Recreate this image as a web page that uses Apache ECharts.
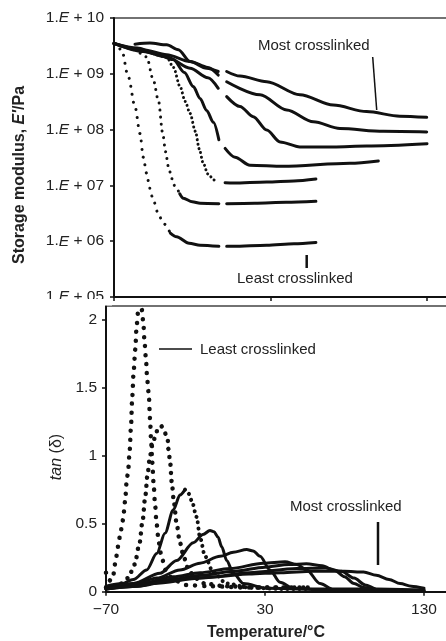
<!DOCTYPE html>
<html><head><meta charset="utf-8">
<script src="https://cdn.jsdelivr.net/npm/echarts@6/dist/echarts.min.js"></script>
<style>html,body{margin:0;padding:0;background:#fff}#c{width:446px;height:641px}</style>
</head><body><div id="c"></div>
<script>
// ---------- tick values ----------
const tempTicks = [-70, 30, 130];
const modulusTicks = [1e5, 1e6, 1e7, 1e8, 1e9, 1e10];
const tanTicks = [0, 0.5, 1, 1.5, 2];

// ---------- storage modulus E' (Pa) vs temperature (°C), least -> most crosslinked ----------
const e1 = [[-70,3.5e9],[-65.1,2.7e9],[-60.9,8.9e8],[-56.6,2.6e8],[-53.4,8.5e7],[-51.3,3.2e7],[-49.2,1.66e7],[-47.1,8.9e6],[-45,5.5e6],[-41.5,3.0e6],[-38.5,2.1e6],[-34,1.4e6],[-30,1.2e6],[-22,9.2e5],[-15,8.5e5],[-3,8.1e5],[-0.5,null],[2,8.1e5],[6.2,8.1e5],[27.6,8.5e5],[45,9.0e5],[59,9.5e5]];
const e2 = [[-70,3.5e9],[-60,2.9e9],[-52,2.3e9],[-49.1,2.0e9],[-44.9,7.8e8],[-41.5,3.2e8],[-39,8.9e7],[-37,4.0e7],[-35.3,2.2e7],[-33,1.32e7],[-31,9.5e6],[-28,7.1e6],[-25.7,5.9e6],[-20,5.1e6],[-15,4.8e6],[-3,4.7e6],[-0.5,null],[2,4.7e6],[20,4.8e6],[40,5.0e6],[59,5.2e6]];
const e3 = [[-70,3.5e9],[-55,2.7e9],[-45,2.3e9],[-36.3,2.0e9],[-32,1.3e9],[-27.8,5.9e8],[-24.5,3.2e8],[-21.4,1.95e8],[-18,9.3e7],[-15.5,4.5e7],[-13,2.5e7],[-10,1.6e7],[-6,1.25e7],[-3.4,1.17e7],[-0.5,null],[1,1.12e7],[6.2,1.1e7],[27.6,1.15e7],[45,1.2e7],[59,1.3e7]];
const e4 = [[-70,3.5e9],[-55,2.9e9],[-45,2.4e9],[-32.1,1.8e9],[-25,1.05e9],[-19.3,5.9e8],[-15,3.6e8],[-10.8,2.2e8],[-6.5,1.35e8],[-3,6.6e7],[-0.5,null],[1,4.6e7],[7.3,3.2e7],[16.9,2.3e7],[38,2.2e7],[80.8,2.5e7],[98.9,2.75e7]];
const e5 = [[-70,3.5e9],[-51.3,2.5e9],[-36.3,2.0e9],[-21.4,1.26e9],[-10,8.5e8],[-3.4,5.5e8],[-0.5,null],[2,3.9e8],[10.5,2.6e8],[19,1.7e8],[27.6,9.8e7],[36.1,6.0e7],[48.8,4.9e7],[70.1,4.9e7],[91.4,5.1e7],[130,5.6e7]];
const e6 = [[-70,3.5e9],[-51.3,2.7e9],[-36.3,2.2e9],[-21.4,1.66e9],[-10,1.3e9],[-3.4,9.5e8],[-0.5,null],[2,7.2e8],[23.3,4.2e8],[40.4,2.24e8],[57.4,1.38e8],[74.4,1.05e8],[102.1,9.3e7],[129.8,9.1e7]];
const e7 = [[-56.6,3.4e9],[-47,3.55e9],[-36.3,3.3e9],[-28.9,2.7e9],[-21.4,1.66e9],[-10.8,1.26e9],[-3.4,1.1e9],[-0.5,null],[2,1.1e9],[10.5,9.1e8],[27.6,7.2e8],[48.8,4.2e8],[70.1,2.75e8],[91.4,2.1e8],[112.7,1.74e8],[129.8,1.66e8]];

// ---------- tan(delta) vs temperature, least -> most crosslinked ----------
const t1 = [[-70,0.14],[-68.5,0.09],[-67,0.08],[-65.5,0.12],[-64,0.22],[-62.5,0.33],[-61,0.42],[-59.7,0.51],[-58.7,0.59],[-57.9,0.68],[-57,0.81],[-56,0.9],[-55.1,1.04],[-54.3,1.21],[-53.5,1.43],[-52.6,1.62],[-51.6,1.78],[-50.7,1.96],[-49.7,2.07],[-47.6,2.08],[-46.5,1.98],[-45.9,1.86],[-45,1.73],[-44,1.55],[-43.1,1.45],[-42.3,1.27],[-41.6,1.1],[-40.9,0.95],[-40.1,0.8],[-39.2,0.65],[-38.2,0.5],[-36.8,0.36],[-35,0.25],[-32.5,0.16],[-28,0.09],[-20,0.05],[-5,0.04],[20,0.03],[59,0.03]];
const t2 = [[-70,0.03],[-62,0.05],[-56,0.1],[-52,0.2],[-49,0.35],[-47,0.52],[-45.3,0.7],[-43.8,0.87],[-42.3,1.0],[-40.5,1.1],[-38,1.18],[-35.5,1.22],[-33.5,1.19],[-32.5,1.16],[-31.2,1.12],[-30.8,1.05],[-29.7,0.96],[-28.7,0.81],[-27.2,0.65],[-25.6,0.5],[-23.5,0.36],[-21,0.25],[-18,0.16],[-14,0.1],[-8,0.06],[5,0.04],[30,0.03],[59,0.03]];
const t3 = [[-70,0.04],[-60,0.06],[-52.8,0.09],[-44.4,0.16],[-38.1,0.28],[-32.9,0.43],[-27.7,0.6],[-23.5,0.71],[-20.3,0.75],[-18,0.72],[-16.1,0.67],[-13,0.55],[-10.9,0.4],[-7.7,0.26],[-2.5,0.14],[5.9,0.06],[20.6,0.03],[40,0.02],[59,0.02]];
const t4 = [[-70,0.025],[-52.8,0.06],[-36,0.135],[-25.5,0.23],[-15.1,0.36],[-9,0.42],[-4.6,0.45],[-2,0.44],[0.5,0.4],[2.8,0.33],[5.9,0.23],[10.1,0.135],[16.4,0.06],[31.1,0.025],[60,0.02],[99,0.02]];
const t5 = [[-70,0.025],[-52.8,0.05],[-38.1,0.1],[-23.5,0.16],[-10.9,0.21],[1.7,0.26],[10.1,0.29],[18.5,0.31],[22.5,0.3],[26.9,0.26],[33.1,0.16],[39.4,0.07],[47.8,0.025],[62.5,0.015],[99,0.015]];
const t6 = [[-70,0.025],[-48.6,0.06],[-27.7,0.11],[-10.9,0.14],[8,0.17],[29,0.21],[42.6,0.22],[50,0.2],[56.2,0.16],[64.6,0.06],[73,0.015],[100,0.01],[130,0.01]];
const t7 = [[-70,0.02],[-50,0.04],[-30,0.09],[-10,0.12],[10,0.15],[30,0.18],[45,0.2],[56,0.205],[66,0.19],[74,0.155],[80,0.11],[86,0.06],[92,0.03],[100,0.015],[130,0.01]];
const t8 = [[-70,0.02],[-40,0.06],[-10,0.1],[20,0.14],[50,0.17],[68,0.175],[78,0.15],[86,0.1],[93,0.05],[100,0.02],[130,0.01]];
const t9 = [[-70,0.02],[-50,0.04],[-30,0.08],[-15,0.1],[0,0.11],[20,0.13],[40,0.14],[60,0.15],[80,0.15],[92,0.145],[100,0.12],[108,0.09],[115,0.06],[122,0.04],[130,0.025]];

// ---------- styling (not data) ----------
const INK = '#111';
const TXT = '#222';
const FONT = "'Liberation Sans', Arial, Helvetica, sans-serif";
const topCurves = [
  {d:e1, dots:[-Infinity,-34], dw:3, gap:8},
  {d:e2, dots:[-Infinity,-28], dw:3, gap:7},
  {d:e3, dots:[-45,-3.4], dw:3, gap:4.5},
  {d:e4, dots:null},
  {d:e5, dots:null},
  {d:e6, dots:null},
  {d:e7, dots:null}
];
const botCurves = [
  {d:t1, dots:[-Infinity,Infinity], dw:4.5, gap:9},
  {d:t2, dots:[-Infinity,Infinity], dw:4.5, gap:8},
  {d:t3, dots:[-20.3,Infinity], dw:4, gap:6},
  {d:t4, dots:null},
  {d:t5, dots:null},
  {d:t6, dots:null},
  {d:t7, dots:null},
  {d:t8, dots:null},
  {d:t9, dots:null}
];

function lineSeries(data, idx, style) {
  return {type:'line', xAxisIndex:idx, yAxisIndex:idx, data, symbol:'none', showSymbol:false,
    smooth:0.3, smoothMonotone:'x', connectNulls:false, animation:false, silent:true,
    lineStyle:Object.assign({color:INK, cap:'round', join:'round'}, style)};
}
function buildSeries(curves, idx, solidW) {
  const out = [];
  curves.forEach(c => {
    if (!c.dots) { out.push(lineSeries(c.d, idx, {width:solidW})); return; }
    const [a, b] = c.dots;
    const before = c.d.filter(p => p[0] <= a);
    const mid = c.d.filter(p => p[0] >= a && p[0] <= b);
    const after = c.d.filter(p => p[0] >= b);
    if (before.length > 1) out.push(lineSeries(before, idx, {width:solidW}));
    if (after.length > 1) out.push(lineSeries(after, idx, {width:solidW}));
    out.push(lineSeries(mid, idx, {width:c.dw, type:[0.01, c.gap]}));
  });
  return out;
}

const labelBase = {color:TXT, fontFamily:FONT, fontSize:15.5};
const chart = echarts.init(document.getElementById('c'), null, {renderer:'canvas'});
chart.setOption({
  animation:false,
  backgroundColor:'#fff',
  grid:[
    {left:114, top:18, width:344.3, height:279, outerBoundsMode:'none', containLabel:false, show:true, borderColor:'#444', borderWidth:1.5, backgroundColor:'transparent'},
    {left:106, top:306, width:349.8, height:285.7, outerBoundsMode:'none', containLabel:false, show:true, borderColor:'#444', borderWidth:1.5, backgroundColor:'transparent'}
  ],
  xAxis:[
    {type:'value', gridIndex:0, min:-70, max:150, interval:100,
      axisLine:{onZero:false, lineStyle:{color:INK, width:2}}, axisTick:{inside:false, length:4, lineStyle:{color:INK, width:1.5}, customValues:tempTicks},
      axisLabel:{show:false}, splitLine:{show:false}},
    {type:'value', gridIndex:1, min:-70, max:150, interval:100,
      axisLine:{onZero:false, lineStyle:{color:INK, width:2}}, axisTick:{inside:false, length:4, lineStyle:{color:INK, width:1.5}, customValues:tempTicks},
      axisLabel:Object.assign({margin:10, customValues:tempTicks,
        formatter:v => String(v).replace('-', '\u2212')}, labelBase),
      splitLine:{show:false}}
  ],
  yAxis:[
    {type:'log', gridIndex:0, logBase:10, min:modulusTicks[0], max:modulusTicks[modulusTicks.length-1],
      axisLine:{show:true, onZero:false, lineStyle:{color:INK, width:2}}, axisTick:{show:true, inside:false, length:4, lineStyle:{color:INK, width:1.5}},
      axisLabel:Object.assign({margin:10, formatter:v => {
        const e = Math.round(Math.log10(v));
        return '1.{i|E} + ' + (e < 10 ? '0' + e : String(e));
      }, rich:{i:{fontStyle:'italic', color:TXT, fontFamily:FONT, fontSize:15.5}}}, labelBase),
      splitLine:{show:false}},
    {type:'value', gridIndex:1, min:0, max:2.1, interval:0.5,
      axisLine:{show:true, onZero:false, lineStyle:{color:INK, width:2}}, axisTick:{show:true, inside:false, length:4, lineStyle:{color:INK, width:1.5}, customValues:tanTicks},
      axisLabel:Object.assign({margin:9, customValues:tanTicks}, labelBase),
      splitLine:{show:false}}
  ],
  series:[].concat(buildSeries(topCurves, 0, 3), buildSeries(botCurves, 1, 3)),
  graphic:[
    {type:'rect', shape:{x:0, y:299, width:112, height:6.5}, style:{fill:'#fff'}, z:100, silent:true},
    {type:'text', x:20, y:175, rotation:Math.PI/2, z:101, style:{text:"Storage modulus, {i|E'}/Pa", fill:TXT,
      font:"bold 16px " + FONT, align:'center', verticalAlign:'middle',
      rich:{i:{fontStyle:'italic', fontWeight:'bold', fontSize:16, fontFamily:FONT, fill:TXT}}}},
    {type:'text', x:57, y:457, rotation:Math.PI/2, z:101, style:{text:"{i|tan} (\u03b4)", fill:TXT,
      font:"16px " + FONT, align:'center', verticalAlign:'middle',
      rich:{i:{fontStyle:'italic', fontSize:16, fontFamily:FONT, fill:TXT}}}},
    {type:'text', x:266, y:633, z:101, style:{text:'Temperature/\u00b0C', fill:TXT, font:"bold 16px " + FONT, align:'center', verticalAlign:'middle'}},
    {type:'text', x:258, y:46, z:101, style:{text:'Most crosslinked', fill:TXT, font:"15px " + FONT, align:'left', verticalAlign:'middle'}},
    {type:'line', z:101, shape:{x1:372.7, y1:57, x2:376.7, y2:110}, style:{stroke:INK, lineWidth:1.5}},
    {type:'text', x:237, y:279, z:101, style:{text:'Least crosslinked', fill:TXT, font:"15px " + FONT, align:'left', verticalAlign:'middle'}},
    {type:'line', z:101, shape:{x1:306.7, y1:255, x2:306.7, y2:268}, style:{stroke:INK, lineWidth:2.5}},
    {type:'text', x:200, y:350, z:101, style:{text:'Least crosslinked', fill:TXT, font:"15px " + FONT, align:'left', verticalAlign:'middle'}},
    {type:'line', z:101, shape:{x1:159, y1:349, x2:192, y2:349}, style:{stroke:INK, lineWidth:1.5}},
    {type:'text', x:290, y:507, z:101, style:{text:'Most crosslinked', fill:TXT, font:"15px " + FONT, align:'left', verticalAlign:'middle'}},
    {type:'line', z:101, shape:{x1:378, y1:522, x2:378, y2:565}, style:{stroke:INK, lineWidth:2.5}}
  ]
});
</script></body></html>
